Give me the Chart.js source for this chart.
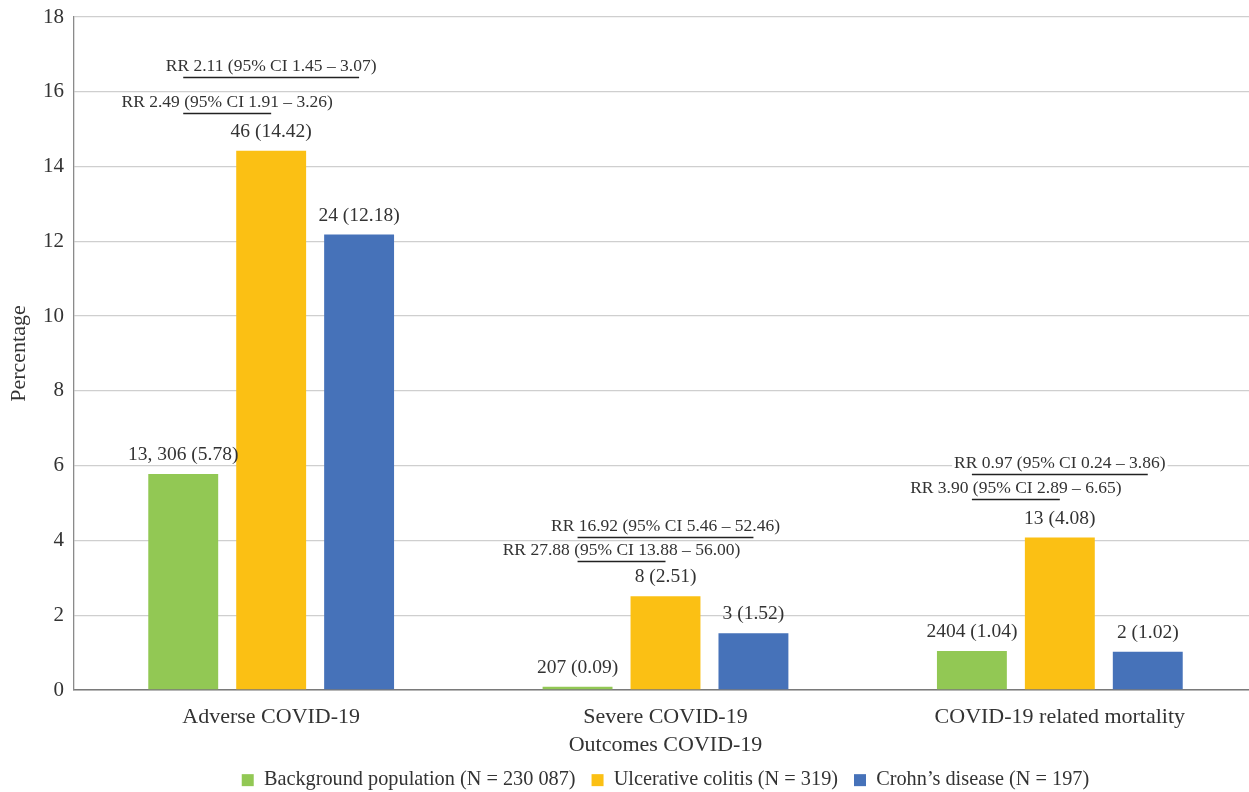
<!DOCTYPE html>
<html>
<head>
<meta charset="utf-8">
<script src="https://cdn.jsdelivr.net/npm/chart.js@4.4.0/dist/chart.umd.min.js"></script>
<style>
  html, body { margin: 0; padding: 0; background: #fff; overflow: hidden; }
  /* plot area runs a little past the right edge in the reference */
  #wrap { width: 1259px; height: 792px; }
</style>
</head>
<body>
<div id="wrap"><canvas id="chart"></canvas></div>
<script>
// data
const categories = ['Adverse COVID-19', 'Severe COVID-19', 'COVID-19 related mortality'];
const seriesNames = ['Background population (N = 230 087)', 'Ulcerative colitis (N = 319)', 'Crohn\u2019s disease (N = 197)'];
const backgroundPct = [5.78, 0.09, 1.04];
const colitisPct = [14.42, 2.51, 4.08];
const crohnsPct = [12.18, 1.52, 1.02];
const backgroundCounts = ['13, 306', '207', '2404'];
const colitisCounts = ['46', '8', '13'];
const crohnsCounts = ['24', '3', '2'];
// RR of Crohn's vs background (upper line) and colitis vs background (lower line)
const rrCrohns = ['RR 2.11 (95% CI 1.45 \u2013 3.07)', 'RR 16.92 (95% CI 5.46 \u2013 52.46)', 'RR 0.97 (95% CI 0.24 \u2013 3.86)'];
const rrColitis = ['RR 2.49 (95% CI 1.91 \u2013 3.26)', 'RR 27.88 (95% CI 13.88 \u2013 56.00)', 'RR 3.90 (95% CI 2.89 \u2013 6.65)'];
const yTicks = [0, 2, 4, 6, 8, 10, 12, 14, 16, 18];

const FONT = '"Liberation Serif", "DejaVu Serif", serif';
const colors = ['#92C854', '#FBC014', '#4672B9'];
const counts = [backgroundCounts, colitisCounts, crohnsCounts];

// value labels above bars + RR brackets
const labelsPlugin = {
  id: 'barLabels',
  afterDatasetsDraw(chart) {
    const ctx = chart.ctx;
    ctx.save();
    ctx.fillStyle = '#333';
    ctx.font = '19.5px ' + FONT;
    ctx.textAlign = 'center';
    ctx.textBaseline = 'middle';
    chart.data.datasets.forEach((ds, d) => {
      chart.getDatasetMeta(d).data.forEach((bar, i) => {
        const txt = counts[d][i] + ' (' + ds.data[i].toFixed(2) + ')';
        ctx.fillText(txt, bar.x, bar.y - 19);
      });
    });

    // pixel spacing of the two bracket lines above the colitis bar, per group
    const lift = [38, 35, 38];
    const gaps = [36, 24, 25];
    const g = chart.getDatasetMeta(0).data;
    const u = chart.getDatasetMeta(1).data;
    const c = chart.getDatasetMeta(2).data;
    ctx.font = '17.5px ' + FONT;
    const bracket = (x1, x2, y, text) => {
      const mid = (x1 + x2) / 2;
      const w = ctx.measureText(text).width;
      ctx.fillStyle = '#fff';
      ctx.fillRect(mid - w / 2 - 2, y - 19, w + 4, 16);
      ctx.fillStyle = '#333';
      ctx.fillText(text, mid, y - 11);
      ctx.strokeStyle = '#222';
      ctx.lineWidth = 1.3;
      ctx.beginPath();
      ctx.moveTo(x1, y);
      ctx.lineTo(x2, y);
      ctx.stroke();
    };
    categories.forEach((_, i) => {
      const y2 = Math.round(u[i].y - lift[i]) + 0.5;
      const y1 = y2 - gaps[i];
      bracket(g[i].x, u[i].x, y2, rrColitis[i]);
      bracket(g[i].x, c[i].x, y1, rrCrohns[i]);
    });
    ctx.restore();
  }
};

const datasets = [backgroundPct, colitisPct, crohnsPct].map((vals, k) => ({
  label: seriesNames[k],
  data: vals,
  backgroundColor: colors[k],
  categoryPercentage: 0.669,
  barPercentage: 0.795
}));

new Chart(document.getElementById('chart'), {
  type: 'bar',
  data: { labels: categories, datasets },
  options: {
    responsive: true,
    maintainAspectRatio: false,
    animation: false,
    layout: { padding: { left: 6, right: 2, top: 17, bottom: 2 } },
    plugins: {
      legend: {
        position: 'bottom',
        fullSize: false,
        maxHeight: 36,
        labels: {
          color: '#333',
          font: { family: FONT, size: 20.3 },
          boxWidth: 12,
          boxHeight: 12,
          padding: 16
        }
      },
      tooltip: { enabled: false }
    },
    scales: {
      x: {
        afterFit(scale) { scale.height = 64; },
        grid: { display: false, drawTicks: false },
        border: { color: '#7a7a7a', width: 1.5 },
        ticks: { color: '#333', font: { family: FONT, size: 22 }, padding: 14 },
        title: { display: true, text: 'Outcomes COVID-19', color: '#333', font: { family: FONT, size: 22 }, padding: { top: 0, bottom: -4 } }
      },
      y: {
        min: 0,
        max: 18,
        afterBuildTicks(scale) { scale.ticks = yTicks.map(v => ({ value: v })); },
        afterFit(scale) { scale.width = 68; },
        grid: { color: '#cfcfcf', lineWidth: 1.3, drawTicks: false },
        border: { color: '#8a8a8a', width: 1.3 },
        ticks: { color: '#333', font: { family: FONT, size: 21, lineHeight: 0.6 }, padding: 10 },
        title: { display: true, text: 'Percentage', color: '#333', font: { family: FONT, size: 22 }, padding: { top: 0, bottom: 2 } }
      }
    }
  },
  plugins: [labelsPlugin]
});
</script>
</body>
</html>
